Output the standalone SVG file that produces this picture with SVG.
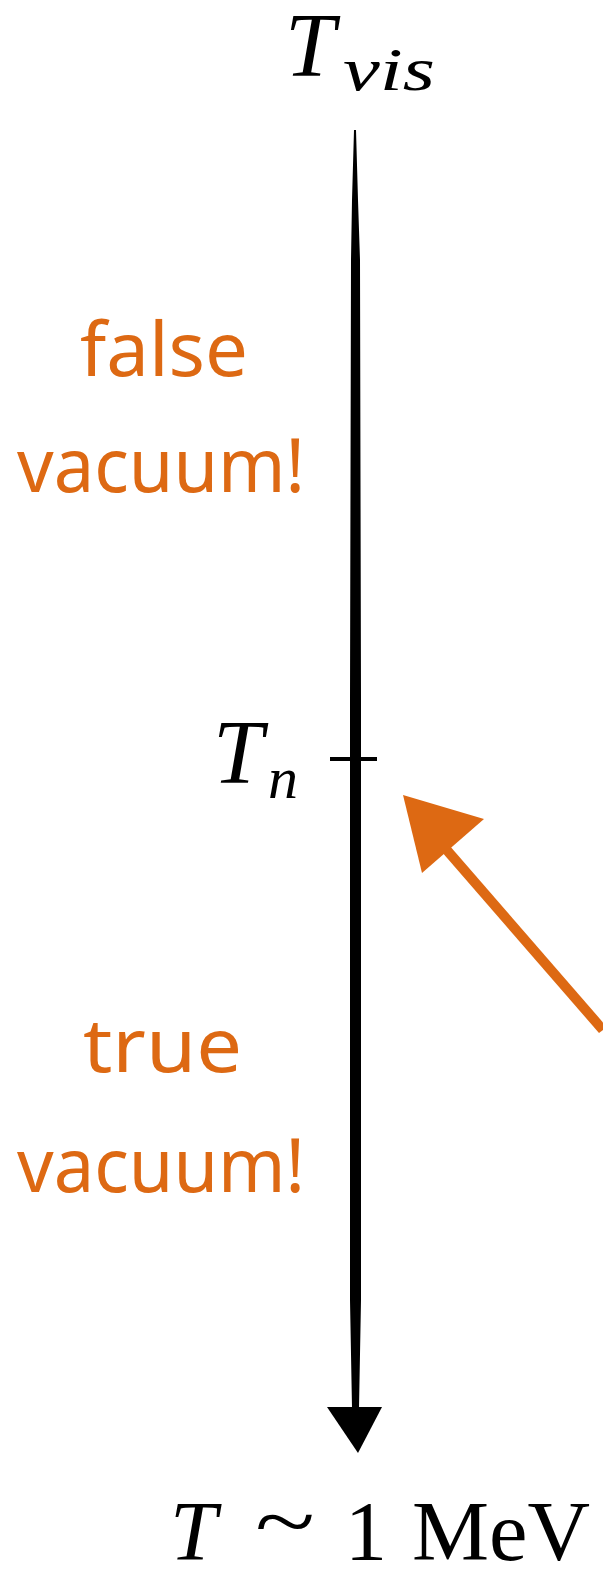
<svg xmlns="http://www.w3.org/2000/svg" width="603" height="1572" viewBox="0 0 603 1572">
<style>
.math{font-family:"Liberation Serif","DejaVu Serif",serif;fill:#000}
.it{font-style:italic}
.hand{font-family:"Noto Sans","DejaVu Sans",sans-serif;fill:#DD6913;font-size:74px}
</style>
<rect width="603" height="1572" fill="#fff"/>
<g id="connectors">
  <polygon id="axis" points="354,130 356,130 358,200 360,260 361,700 361,1300 359,1408 352,1408 350,1300 350,700 351,260 352,200" fill="#000"/>
  <polygon id="axis-head" points="327,1407 382,1407 358,1453" fill="#000"/>
  <line id="tick" x1="330" y1="759" x2="377" y2="759" stroke="#000" stroke-width="4"/>
  <polygon id="orange-shaft" points="441,851 449,845 607,1027 599,1033" fill="#DD6913"/>
  <polygon id="orange-head" points="403,795 484,819 422,873" fill="#DD6913"/>
</g>
<g id="label-tvis">
  <text class="math it" x="285" y="76" font-size="90">T&#8202;</text>
  <text class="math it" x="343" y="90" font-size="62" textLength="92" lengthAdjust="spacingAndGlyphs">vis</text>
</g>
<g id="label-tn">
  <text class="math it" x="213" y="783" font-size="90">T&#8202;</text>
  <text class="math it" x="268" y="798" font-size="60">n</text>
</g>
<g id="label-bottom">
  <text class="math it" x="170" y="1560" font-size="84">T&#8202;</text>
  <text class="math" x="255" y="1550" font-size="84" textLength="60" lengthAdjust="spacingAndGlyphs">~</text>
  <text class="math" x="345" y="1560" font-size="84">1</text>
  <text class="math" x="412" y="1560" font-size="84" textLength="178" lengthAdjust="spacingAndGlyphs">MeV</text>
</g>
<g id="false-vacuum">
  <text class="hand" x="80" y="376" textLength="168" lengthAdjust="spacingAndGlyphs">false</text>
  <text class="hand" x="17" y="492" textLength="288" lengthAdjust="spacingAndGlyphs">vacuum!</text>
</g>
<g id="true-vacuum">
  <text class="hand" x="83" y="1072" textLength="159" lengthAdjust="spacingAndGlyphs">true</text>
  <text class="hand" x="17" y="1192" textLength="288" lengthAdjust="spacingAndGlyphs">vacuum!</text>
</g>
</svg>
